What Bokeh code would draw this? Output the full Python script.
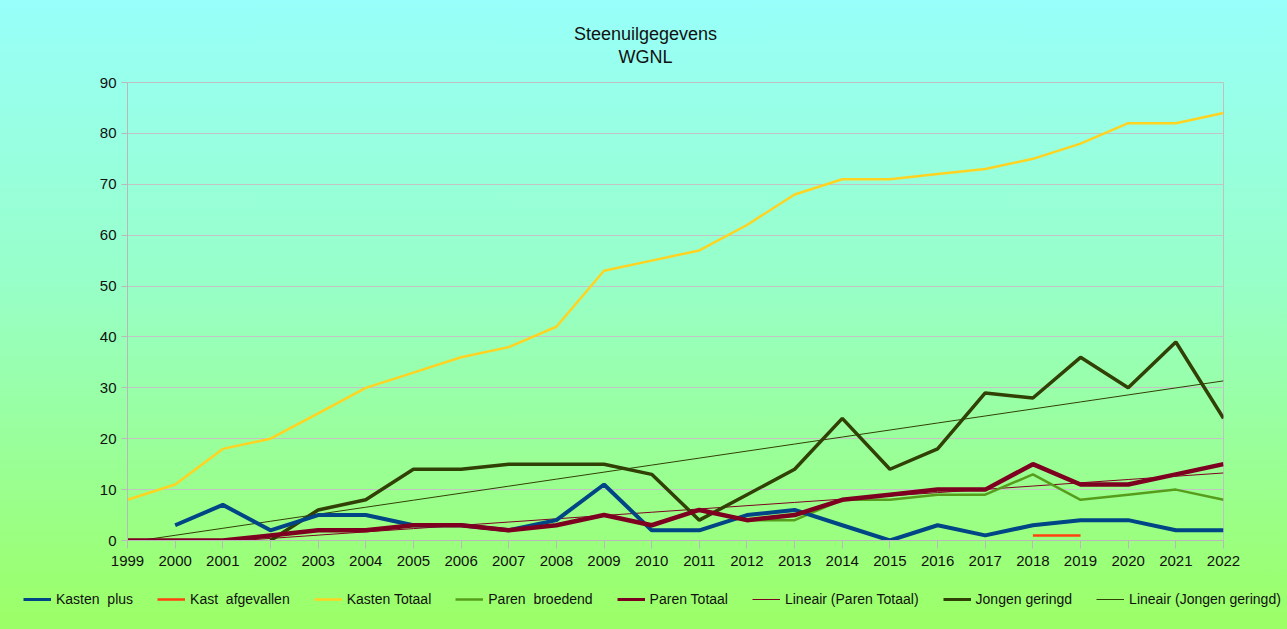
import numpy as np
from bokeh.plotting import figure
from bokeh.layouts import column
from bokeh.models import ColumnDataSource, Legend, LegendItem, Label, FixedTicker, Range1d
from bokeh.embed import file_html
from bokeh.resources import INLINE

years = list(range(1999, 2023))
nan = float("nan")
kasten_plus = [nan, 3, 7, 2, 5, 5, 3, 3, 2, 4, 11, 2, 2, 5, 6, 3, 0, 3, 1, 3, 4, 4, 2, 2]
kast_afgevallen = [nan] * 19 + [1, 1, nan, nan, nan]
kasten_totaal = [8, 11, 18, 20, 25, 30, 33, 36, 38, 42, 53, 55, 57, 62, 68, 71, 71, 72, 73, 75, 78, 82, 82, 84]
paren_broedend = [0, 0, 0, 1, 2, 2, 3, 3, 2, 3, 5, 3, 6, 4, 4, 8, 8, 9, 9, 13, 8, 9, 10, 8]
paren_totaal = [0, 0, 0, 1, 2, 2, 3, 3, 2, 3, 5, 3, 6, 4, 5, 8, 9, 10, 10, 15, 11, 11, 13, 15]
jongen_geringd = [nan, nan, nan, 0, 6, 8, 14, 14, 15, 15, 15, 13, 4, 9, 14, 24, 14, 18, 29, 28, 36, 30, 39, 24]
y_ticks = [0, 10, 20, 30, 40, 50, 60, 70, 80, 90]
title_lines = ["Steenuilgegevens", "WGNL"]

def trend(vals):
    x = np.array(years, dtype=float)
    y = np.array(vals, dtype=float)
    m = ~np.isnan(y)
    a, b = np.polyfit(x[m], y[m], 1)
    return list(a * x + b)

src = ColumnDataSource(dict(
    year=years, kp=kasten_plus, ka=kast_afgevallen, kt=kasten_totaal,
    pb=paren_broedend, pt=paren_totaal, jg=jongen_geringd,
    tpt=trend(paren_totaal), tjg=trend(jongen_geringd),
))

FONT = "Liberation Sans"

series = [
    ("Lineair (Paren Totaal)", "tpt", "#7E0021", 1),
    ("Lineair (Jongen geringd)", "tjg", "#314004", 1),
    ("Kasten Totaal", "kt", "#FFD320", 2.5),
    ("Paren  broedend", "pb", "#579D1C", 2.5),
    ("Jongen geringd", "jg", "#314004", 3.5),
    ("Kasten  plus", "kp", "#004586", 4),
    ("Paren Totaal", "pt", "#7E0021", 4.5),
    ("Kast  afgevallen", "ka", "#FF420E", 2.5),
]
legend_order = ["Kasten  plus", "Kast  afgevallen", "Kasten Totaal", "Paren  broedend",
                "Paren Totaal", "Lineair (Paren Totaal)", "Jongen geringd", "Lineair (Jongen geringd)"]

def strip(height, xr, yr, **kw):
    f = figure(width=1287, height=height, output_backend="svg", toolbar_location=None,
               x_range=xr, y_range=yr, x_axis_type=None, y_axis_type=None,
               min_border_left=0, min_border_right=0, min_border_top=0, min_border_bottom=0, **kw)
    f.border_fill_color = None
    f.background_fill_color = None
    f.outline_line_color = None
    f.grid.visible = False
    return f

# title strip (page pixel coordinates, y downward)
p0 = strip(72, Range1d(127, 1223), Range1d(72, 0))
for txt, ty in zip(title_lines, [33, 56]):
    p0.add_layout(Label(x=645, y=ty, text=txt, text_align="center", text_baseline="middle",
                        text_font=FONT, text_font_size="18px", text_color="#111111"))

p = figure(width=1287, height=503, output_backend="svg", toolbar_location=None,
           x_range=Range1d(1999, 2022), y_range=Range1d(0, 90),
           min_border_left=127, min_border_right=64, min_border_top=10, min_border_bottom=35)
p.border_fill_color = None
p.background_fill_color = None
p.outline_line_color = "#c0c0c0"

for label, col, color, w in series:
    p.line("year", col, source=src, color=color, line_width=w)

p.xaxis.ticker = FixedTicker(ticks=years)
p.yaxis.ticker = FixedTicker(ticks=y_ticks)
for ax in (p.xaxis, p.yaxis):
    ax.axis_line_color = "#b8b8b8"
    ax.major_tick_line_color = "#b8b8b8"
    ax.minor_tick_line_color = None
    ax.major_label_text_font = FONT
    ax.major_label_text_font_size = "15px"
    ax.major_label_text_color = "#111111"
    ax.major_tick_in = 0
p.xaxis.major_tick_out = 8
p.xaxis.major_label_standoff = 7
p.yaxis.major_tick_out = 6
p.yaxis.major_label_standoff = 5
p.xgrid.grid_line_color = None
p.ygrid.grid_line_color = "#c4c4c4"
p.ygrid.grid_line_width = 1

lay = column(p0, p, spacing=0,
             styles={"background": "linear-gradient(to bottom, #98fffa 0%, #97ffc8 49%, #9bff75 100%)",
                     "vertical-align": "top"})

# legend strip: a separate root, so its frame spans the full width and nothing is clipped
p2 = strip(54, Range1d(0, 1287), Range1d(0, 54),
           styles={"background": "linear-gradient(to bottom, #9bff75 0%, #9cff66 100%)",
                   "vertical-align": "top"})
style = {label: (color, w) for label, col, color, w in series}
items = []
for label in legend_order:
    color, w = style[label]
    r = p2.line(x=[nan], y=[nan], color=color, line_width=min(w, 3))
    items.append(LegendItem(label=label, renderers=[r]))
legend = Legend(items=items, orientation="horizontal", location=(19, 18), label_text_font=FONT,
                label_text_font_size="14px", label_text_color="#111111", glyph_width=28,
                glyph_height=14, spacing=24, label_standoff=5, padding=4, margin=0,
                background_fill_alpha=0, border_line_alpha=0)
p2.add_layout(legend, "center")

open("out.html", "w").write(file_html([lay, p2], INLINE))
